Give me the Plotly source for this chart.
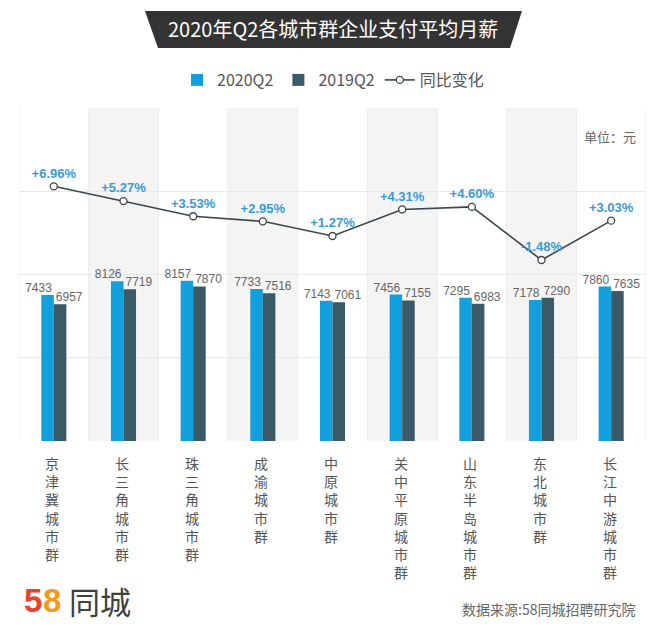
import plotly.graph_objects as go

categories = ["京津冀城市群", "长三角城市群", "珠三角城市群", "成渝城市群", "中原城市群",
              "关中平原城市群", "山东半岛城市群", "东北城市群", "长江中游城市群"]
salary_2020q2 = [7433, 8126, 8157, 7733, 7143, 7456, 7295, 7178, 7860]
salary_2019q2 = [6957, 7719, 7870, 7516, 7061, 7155, 6983, 7290, 7635]
yoy_change = [6.96, 5.27, 3.53, 2.95, 1.27, 4.31, 4.60, -1.48, 3.03]

OFF = 8  # page body margin of the html page
W, H = 663 - OFF, 626 - OFF
L, R, T, B = 19 - OFF, 646 - OFF, 108 - OFF, 441 - OFF  # plot area in figure pixels

def px(x):
    return (x - OFF - L) / (R - L)

def py(y):
    return (B - (y - OFF)) / (B - T)

xs = list(range(len(categories)))

C2020 = "#129fdb"
C2019 = "#3b5a68"
LINE = "#3c464c"
NUMFONT = "Liberation Sans, Arial, sans-serif"
CJK = "Noto Sans CJK SC"

fig = go.Figure()

fig.add_trace(go.Bar(
    x=xs, y=salary_2020q2, name="2020Q2", marker=dict(color=C2020, line=dict(width=0)),
    width=0.18, offset=-0.18, yaxis="y", hoverinfo="y"))
fig.add_trace(go.Bar(
    x=xs, y=salary_2019q2, name="2019Q2", marker=dict(color=C2019, line=dict(width=0)),
    width=0.18, offset=0.0, yaxis="y", hoverinfo="y"))

# value labels
fig.add_trace(go.Scatter(
    x=[i - 0.22 for i in xs], y=salary_2020q2, mode="text", text=[str(v) for v in salary_2020q2],
    textposition="top center", textfont=dict(family=NUMFONT, size=12, color="#666666"),
    showlegend=False, hoverinfo="skip", yaxis="y", cliponaxis=False))
fig.add_trace(go.Scatter(
    x=[i + 0.22 for i in xs], y=salary_2019q2, mode="text", text=[str(v) for v in salary_2019q2],
    textposition="top center", textfont=dict(family=NUMFONT, size=12, color="#666666"),
    showlegend=False, hoverinfo="skip", yaxis="y", cliponaxis=False))

# YoY line
fig.add_trace(go.Scatter(
    x=xs, y=yoy_change, name="同比变化", mode="lines+markers+text",
    line=dict(color=LINE, width=1.6),
    marker=dict(symbol="circle", size=7, color="white", line=dict(color=LINE, width=1.3)),
    text=[("+" if v > 0 else "") + f"{v:.2f}%" for v in yoy_change],
    textposition="top center",
    textfont=dict(family=NUMFONT, size=13, color="#3a9ad4", weight="bold"),
    yaxis="y2", cliponaxis=False))

bar_top = 16950
pct_lo, pct_hi = -22.21, 15.93

shapes = []
for i in xs:
    if i % 2 == 1:
        shapes.append(dict(type="rect", xref="x", yref="paper", x0=i - 0.5, x1=i + 0.5,
                           y0=0, y1=1, fillcolor="#f4f4f4", line=dict(width=0), layer="below"))
for i in range(len(categories) + 1):
    shapes.append(dict(type="line", xref="x", yref="paper", x0=i - 0.5, x1=i - 0.5,
                       y0=0, y1=1, line=dict(color="#ebebeb", width=1), layer="below"))

# title banner
x0, x1, x2, x3 = px(145), px(522), px(510), px(158)
yt, yb = py(11), py(48)
shapes.append(dict(type="path", xref="paper", yref="paper",
                   path=f"M {x0},{yt} L {x1},{yt} L {x2},{yb} L {x3},{yb} Z",
                   fillcolor="#333333", line=dict(width=0), layer="above"))

annotations = [
    dict(text="2020年Q2各城市群企业支付平均月薪", xref="paper", yref="paper",
         x=px(333), y=py(29), xanchor="center", yanchor="middle", showarrow=False,
         font=dict(family=CJK, size=20, color="white")),
    dict(text="单位：元", xref="paper", yref="paper", x=px(638), y=py(136),
         xanchor="right", yanchor="middle", showarrow=False,
         font=dict(family=CJK, size=13, color="#666666")),
    dict(text="数据来源:58同城招聘研究院", xref="paper", yref="paper", x=px(637), y=py(609),
         xanchor="right", yanchor="middle", showarrow=False,
         font=dict(family=CJK, size=14, color="#666666")),
    dict(text="<b>5</b>", xref="paper", yref="paper", x=px(22), y=py(600),
         xanchor="left", yanchor="middle", showarrow=False,
         font=dict(family="Liberation Sans, Arial", size=33, color="#e8432f")),
    dict(text="<b>8</b>", xref="paper", yref="paper", x=px(41), y=py(600),
         xanchor="left", yanchor="middle", showarrow=False,
         font=dict(family="Liberation Sans, Arial", size=33, color="#f29a1f")),
    dict(text="同城", xref="paper", yref="paper", x=px(67), y=py(600),
         xanchor="left", yanchor="middle", showarrow=False,
         font=dict(family=CJK, size=31, color="#3f3f3f")),
]

# vertical category labels (one character per row)
for i, name in enumerate(categories):
    annotations.append(dict(
        text="<br>".join(list(name)), xref="x", yref="paper", x=i - 0.02, y=py(452),
        xanchor="center", yanchor="top", showarrow=False, borderpad=0,
        font=dict(family=CJK, size=14, color="#555555")))

fig.update_layout(
    width=W, height=H,
    margin=dict(l=L, r=W - R, t=T, b=H - B, pad=0),
    paper_bgcolor="white", plot_bgcolor="white",
    barmode="overlay",
    showlegend=True,
    legend=dict(orientation="h", x=px(333), xanchor="center", y=py(80), yanchor="middle",
                font=dict(family=CJK, size=16, color="#555555"),
                itemwidth=30, bgcolor="rgba(0,0,0,0)", traceorder="normal"),
    xaxis=dict(range=[-0.5, len(categories) - 0.5], tickmode="array", tickvals=xs,
               showticklabels=False, showgrid=False, zeroline=False, showline=False,
               ticks="", fixedrange=True),
    yaxis=dict(range=[0, bar_top], tickmode="array",
               tickvals=[bar_top * k / 4 for k in range(5)],
               showticklabels=False, showgrid=True, gridcolor="#e8e8e8", gridwidth=1,
               zeroline=False, showline=False, ticks=""),
    yaxis2=dict(range=[pct_lo, pct_hi], overlaying="y", side="right", showgrid=False,
                showticklabels=False, zeroline=False, showline=False, ticks=""),
    shapes=shapes,
    annotations=annotations,
    font=dict(family=CJK),
)

fig.write_html("out.html")
